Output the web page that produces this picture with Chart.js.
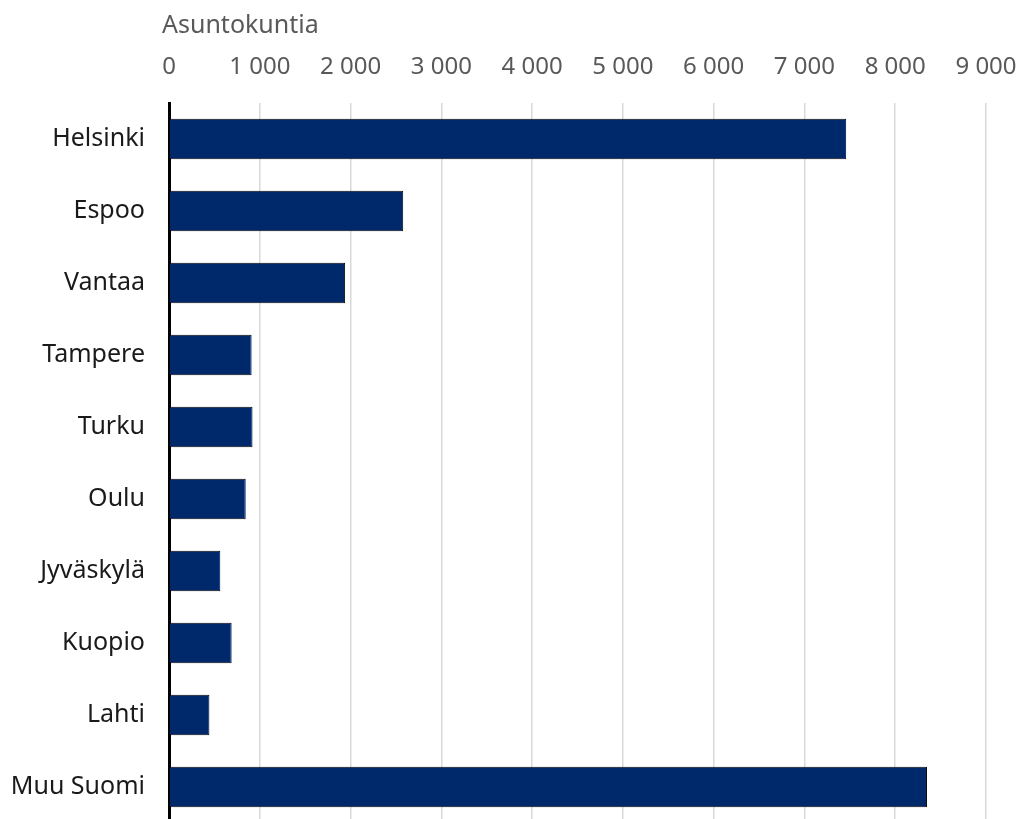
<!DOCTYPE html>
<html lang="fi">
<head>
<meta charset="utf-8">
<title>Asuntokunnat kunnittain</title>
<script src="https://cdn.jsdelivr.net/npm/chart.js@4/dist/chart.umd.min.js"></script>
<style>
  html, body { margin: 0; padding: 0; background: #fff; overflow: hidden; }
  canvas { display: block; }
</style>
</head>
<body>
<canvas id="kunnat" width="1031" height="862"></canvas>
<script>
// Asuntokunnat kunnittain
const kunnat = ["Helsinki", "Espoo", "Vantaa", "Tampere", "Turku", "Oulu", "Jyväskylä", "Kuopio", "Lahti", "Muu Suomi"];
const asuntokuntia = [7460, 2580, 1940, 910, 920, 845, 565, 690, 445, 8350];
const xMax = 9000;
const xStep = 1000;
const yksikko = "Asuntokuntia";

const fontFamily = "'Noto Sans', 'Open Sans', sans-serif";

// 1000 -> "1 000"
const thousands = v => String(v).replace(/\B(?=(\d{3})+(?!\d))/g, " ");

// Yksikköteksti akselin yläpuolelle, hieman nollan vasemmalle puolelle
const yksikkoPlugin = {
    id: "yksikko",
    afterDraw(chart) {
        const { ctx, chartArea } = chart;
        ctx.save();
        ctx.font = `25px ${fontFamily}`;
        ctx.fillStyle = "#595959";
        ctx.textAlign = "left";
        ctx.textBaseline = "alphabetic";
        ctx.fillText(yksikko, chartArea.left - 7, 33);
        ctx.restore();
    }
};

new Chart(document.getElementById("kunnat"), {
    type: "bar",
    data: {
        labels: kunnat,
        datasets: [{
            data: asuntokuntia,
            backgroundColor: "#00296b",
            borderColor: "#0a0a0a",
            borderWidth: 1,
            borderSkipped: "start",
            categoryPercentage: 1,
            barPercentage: 0.56
        }]
    },
    plugins: [yksikkoPlugin],
    options: {
        indexAxis: "y",
        responsive: false,
        animation: false,
        layout: { padding: { left: 0, right: 45, top: 0, bottom: 1 } },
        plugins: {
            legend: { display: false },
            tooltip: { enabled: false }
        },
        scales: {
            x: {
                position: "top",
                min: 0,
                max: xMax,
                ticks: {
                    stepSize: xStep,
                    color: "#595959",
                    font: { family: fontFamily, size: 24 },
                    padding: 21,
                    callback: v => thousands(v)
                },
                grid: { color: "#d9d9d9", lineWidth: 1.5, drawTicks: false },
                border: { display: false },
                afterFit: scale => {
                    scale.height = 103;
                    scale.paddingLeft = 0;
                    scale.paddingRight = 0;
                }
            },
            y: {
                ticks: {
                    color: "#1a1a1a",
                    font: { family: fontFamily, size: 25 },
                    padding: 24
                },
                grid: { display: false, drawTicks: false },
                border: { display: true, color: "#000", width: 3 },
                afterFit: scale => { scale.width = 169; }
            }
        }
    }
});
</script>
</body>
</html>
